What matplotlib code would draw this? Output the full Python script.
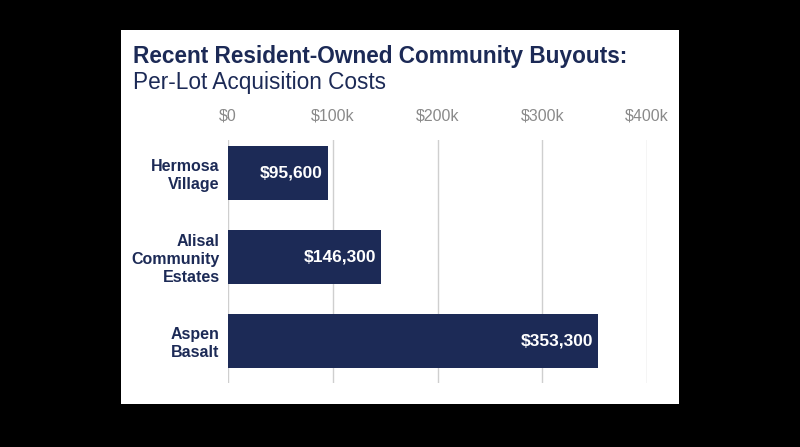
import matplotlib.pyplot as plt

# data
communities = ["Hermosa\nVillage", "Alisal\nCommunity\nEstates", "Aspen\nBasalt"]
costs = [95600, 146300, 353300]
tick_vals = [0, 100000, 200000, 300000, 400000]
tick_labels = ["$0", "$100k", "$200k", "$300k", "$400k"]

navy = "#1c2a56"
plt.rcParams['font.family'] = ['Liberation Sans', 'DejaVu Sans']

fig = plt.figure(figsize=(8, 4.47), dpi=100)
fig.patch.set_facecolor("black")
W, H = 800, 447

# white card behind the chart
card = fig.add_axes([121 / W, 1 - 404 / H, (679 - 121) / W, (404 - 30) / H], zorder=0)
card.set_facecolor("white")
card.set_xticks([])
card.set_yticks([])
for s in card.spines.values():
    s.set_visible(False)

fig.text(133 / W, 1 - 56 / H, "Recent Resident-Owned Community Buyouts:",
         fontsize=16.3, fontweight="bold", color=navy, va="center", ha="left", zorder=5)
fig.text(133 / W, 1 - 82 / H, "Per-Lot Acquisition Costs",
         fontsize=16.3, color=navy, va="center", ha="left", zorder=5)

ax = fig.add_axes([228 / W, 1 - 383 / H, (647 - 228) / W, (383 - 140) / H], zorder=2)
ax.set_facecolor("none")

ypos = list(range(len(communities)))
ax.barh(ypos, costs, height=0.64, color=navy, zorder=2)
for y, v in zip(ypos, costs):
    ax.text(v - 5000, y, "${:,}".format(v), color="white", fontsize=12.5,
            fontweight="bold", ha="right", va="center", zorder=3)

ax.set_xlim(0, 400000)
ax.set_ylim(2.5, -0.39)
ax.set_xticks(tick_vals)
ax.set_xticklabels(tick_labels)
ax.xaxis.tick_top()
ax.tick_params(axis="x", length=0, pad=12, labelsize=11.5, labelcolor="#8a8a8a")
ax.set_yticks(ypos)
ax.set_yticklabels(communities, fontweight="bold", color=navy, fontsize=11.5,
                   linespacing=1.25)
ax.tick_params(axis="y", length=0, pad=6)
ax.grid(axis="x", color="#cfcfcf", linewidth=1, zorder=1)
for s in ax.spines.values():
    s.set_visible(False)

fig.savefig("out.png", dpi=100, facecolor=fig.get_facecolor())
